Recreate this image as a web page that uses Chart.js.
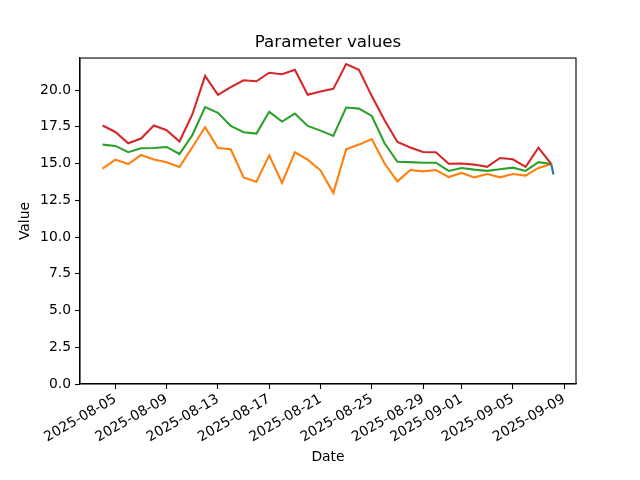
<!DOCTYPE html>
<html>
<head>
<meta charset="utf-8">
<script src="https://cdn.jsdelivr.net/npm/chart.js@4"></script>
<style>
  html, body { margin: 0; padding: 0; background: #fff; }
  #wrap { width: 640px; height: 480px; }
</style>
</head>
<body>
<div id="wrap"><canvas id="mychart"></canvas></div>
<script>
// days counted from 2025-08-04
const startDate = Date.UTC(2025, 7, 4);
const days = [0, 1, 2, 3, 4, 5, 6, 7, 8, 9, 10, 11, 12, 13, 14, 15, 16, 17,
  18, 19, 20, 21, 22, 23, 24, 25, 26, 27, 28, 29, 30, 31, 32, 33, 34, 35];

const orangeVals = [14.66, 15.27, 14.97, 15.58, 15.27, 15.09, 14.77, 16.11, 17.47, 16.06,
  15.97, 14.06, 13.77, 15.56, 13.68, 15.77, 15.27, 14.54, 12.99,
  15.97, 16.29, 16.67, 15.0, 13.79, 14.56, 14.47, 14.56, 14.08,
  14.36, 14.06, 14.29, 14.06, 14.29, 14.18, 14.7, 14.97];
const greenVals = [16.29, 16.2, 15.77, 16.04, 16.06, 16.13, 15.65, 16.93, 18.84, 18.45,
  17.56, 17.13, 17.04, 18.52, 17.86, 18.4, 17.56, 17.24, 16.88,
  18.81, 18.74, 18.24, 16.38, 15.12, 15.1, 15.06, 15.06, 14.5,
  14.7, 14.59, 14.5, 14.61, 14.72, 14.5, 15.1, 14.97];
const redVals = [17.59, 17.15, 16.38, 16.7, 17.59, 17.27, 16.5, 18.34, 20.97, 19.68,
  20.2, 20.67, 20.6, 21.18, 21.08, 21.38, 19.68, 19.9, 20.08,
  21.77, 21.38, 19.59, 17.95, 16.47, 16.09, 15.79, 15.77, 14.99,
  15.0, 14.93, 14.78, 15.38, 15.29, 14.77, 16.08, 14.97];
// blue only shows up at the very end
const blueDays = [35, 35.17];
const blueVals = [14.97, 14.25];

const tickLabels = ["2025-08-05", "2025-08-09", "2025-08-13", "2025-08-17", "2025-08-21",
  "2025-08-25", "2025-08-29", "2025-09-01", "2025-09-05", "2025-09-09"];
const yTicks = [0, 2.5, 5, 7.5, 10, 12.5, 15, 17.5, 20];

function dayOf(s) {
  const p = s.split("-");
  return (Date.UTC(+p[0], +p[1] - 1, +p[2]) - startDate) / 86400000;
}
function labelOf(d) {
  return new Date(startDate + Math.round(d) * 86400000).toISOString().slice(0, 10);
}
function pts(xs, ys) {
  return xs.map((x, i) => ({ x: x, y: ys[i] }));
}

const FONT = "'DejaVu Sans', sans-serif";
Chart.defaults.font.family = FONT;
Chart.defaults.color = "#000";

// top/right spines like matplotlib
const frame = {
  id: "frame",
  afterDatasetsDraw(chart) {
    const a = chart.chartArea, c = chart.ctx;
    c.save();
    c.strokeStyle = "#000";
    c.lineWidth = 1.1;
    c.strokeRect(a.left, a.top, a.right - a.left, a.bottom - a.top);
    c.restore();
  }
};

const line = (label, data, color, order) => ({
  label: label,
  data: data,
  borderColor: color,
  backgroundColor: color,
  borderWidth: 2.1,
  pointRadius: 0,
  tension: 0,
  fill: false,
  order: order,
});

var ctx = document.getElementById("mychart").getContext("2d");
var myChart = new Chart(ctx, {
  type: "line",
  data: {
    datasets: [
      line("blue", pts(blueDays, blueVals), "#1f77b4", 4),
      line("orange", pts(days, orangeVals), "#ff7f0e", 3),
      line("green", pts(days, greenVals), "#2ca02c", 2),
      line("red", pts(days, redVals), "#d62728", 1),
    ],
  },
  options: {
    responsive: true,
    maintainAspectRatio: false,
    animation: false,
    // left 16 so the title centres over the plot (328px)
    layout: { padding: { top: 0, left: 16, right: 0, bottom: 0 } },
    plugins: {
      legend: { display: false },
      tooltip: { enabled: false },
      title: {
        display: true,
        text: "Parameter values",
        font: { size: 16.7, weight: "normal", family: FONT },
        color: "#000",
        padding: { top: 33, bottom: 5 },
      },
    },
    scales: {
      x: {
        type: "linear",
        min: -1.76,
        max: 36.93,
        afterBuildTicks: (s) => { s.ticks = tickLabels.map((t) => ({ value: dayOf(t) })); },
        afterFit: (s) => { s.height = 96; },
        ticks: {
          callback: (v) => labelOf(v),
          minRotation: 30,
          maxRotation: 30,
          autoSkip: false,
          padding: 2,
          font: { size: 13.9 },
          color: "#000",
        },
        grid: { drawOnChartArea: false, drawTicks: true, tickLength: 5, color: "#000", tickWidth: 1.1 },
        border: { display: true, color: "#000", width: 1.1 },
        title: { display: true, text: "Date", font: { size: 13.9 }, color: "#000", padding: { top: 0, bottom: 14 } },
      },
      y: {
        type: "linear",
        min: 0,
        max: 22.18,
        afterBuildTicks: (s) => { s.ticks = yTicks.map((v) => ({ value: v })); },
        afterFit: (s) => { s.width = 64; },
        ticks: {
          callback: (v) => v.toFixed(1),
          padding: 4,
          font: { size: 13.9 },
          color: "#000",
        },
        grid: { drawOnChartArea: false, drawTicks: true, tickLength: 5, color: "#000", tickWidth: 1.1 },
        border: { display: true, color: "#000", width: 1.1 },
        title: { display: true, text: "Value", font: { size: 13.9 }, color: "#000", padding: { top: 1, bottom: 0 } },
      },
      // empty right gutter, keeps plot right edge at 576
      yRight: {
        type: "linear",
        position: "right",
        display: true,
        afterFit: (s) => { s.width = 64; },
        ticks: { display: false },
        grid: { display: false },
        border: { display: false },
      },
    },
  },
  plugins: [frame],
});
</script>
</body>
</html>
